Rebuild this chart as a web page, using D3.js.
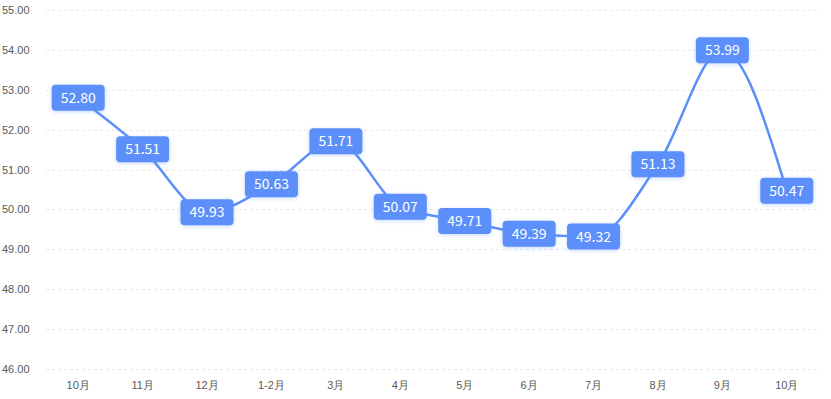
<!DOCTYPE html>
<html>
<head>
<meta charset="utf-8">
<script src="https://cdn.jsdelivr.net/npm/d3@7"></script>
<style>
  body { margin: 0; background: #fff; }
  svg { display: block; font-family: "Noto Sans CJK SC", "Noto Sans", sans-serif; }
</style>
</head>
<body>
<div id="chart"></div>
<script>
var months = ['10月', '11月', '12月', '1-2月', '3月', '4月', '5月', '6月', '7月', '8月', '9月', '10月'];
var values = [52.80, 51.51, 49.93, 50.63, 51.71, 50.07, 49.71, 49.39, 49.32, 51.13, 53.99, 50.47];
var yTicks = [46, 47, 48, 49, 50, 51, 52, 53, 54, 55];

var width = 831, height = 399;
var margin = { top: 10, right: 12, bottom: 30, left: 46 };
var color = '#5b8ff9';

var svg = d3.select('#chart').append('svg')
  .attr('width', width)
  .attr('height', height);

var defs = svg.append('defs');
var shadow = defs.append('filter').attr('id', 'shadow')
  .attr('x', '-30%').attr('y', '-50%').attr('width', '160%').attr('height', '200%');
shadow.append('feDropShadow')
  .attr('dx', 0).attr('dy', 1).attr('stdDeviation', 2)
  .attr('flood-color', color).attr('flood-opacity', 0.35);

// indices keep the two 10月 apart
var x = d3.scaleBand()
  .domain(d3.range(months.length))
  .range([margin.left, width - margin.right]);

var y = d3.scaleLinear()
  .domain([46, 55])
  .range([height - margin.bottom, margin.top]);

// grid
svg.append('g').selectAll('line')
  .data(yTicks)
  .join('line')
  .attr('x1', margin.left)
  .attr('x2', width - margin.right)
  .attr('y1', function(d) { return Math.round(y(d)) + 0.5; })
  .attr('y2', function(d) { return Math.round(y(d)) + 0.5; })
  .attr('stroke', '#e8e8e8')
  .attr('stroke-dasharray', '3,3');

// y axis
var yAxis = d3.axisLeft(y)
  .tickValues(yTicks)
  .tickSize(0)
  .tickPadding(14)
  .tickFormat(d3.format('.2f'));
svg.append('g')
  .attr('transform', 'translate(' + margin.left + ',0)')
  .call(yAxis)
  .call(function(g) { g.select('.domain').remove(); })
  .selectAll('text')
  .attr('fill', '#595959')
  .attr('font-size', 11)
  .attr('text-anchor', 'start')
  .attr('x', -46 + 2);

// x axis
var xAxis = d3.axisBottom(x)
  .tickSize(0)
  .tickPadding(12)
  .tickFormat(function(i) { return months[i]; });
svg.append('g')
  .attr('transform', 'translate(0,' + (height - margin.bottom) + ')')
  .call(xAxis)
  .call(function(g) { g.select('.domain').remove(); })
  .selectAll('text')
  .attr('fill', '#595959')
  .attr('font-size', 11);

var cx = function(d, i) { return x(i) + x.bandwidth() / 2; };

var line = d3.line()
  .x(cx)
  .y(function(d) { return y(d); })
  .curve(d3.curveMonotoneX);

svg.append('path')
  .datum(values)
  .attr('d', line)
  .attr('fill', 'none')
  .attr('stroke', color)
  .attr('stroke-width', 2.5);

// labels
var boxW = 53, boxH = 26;
var label = svg.append('g').selectAll('g')
  .data(values)
  .join('g')
  .attr('transform', function(d, i) {
    return 'translate(' + cx(d, i) + ',' + y(d) + ')';
  });

label.append('rect')
  .attr('x', -boxW / 2)
  .attr('y', -boxH / 2)
  .attr('width', boxW)
  .attr('height', boxH)
  .attr('rx', 4)
  .attr('fill', color)
  .attr('filter', 'url(#shadow)');

label.append('text')
  .attr('text-anchor', 'middle')
  .attr('dy', '0.36em')
  .attr('fill', '#fff')
  .attr('font-size', 14)
  .text(function(d) { return d.toFixed(2); });
</script>
</body>
</html>
